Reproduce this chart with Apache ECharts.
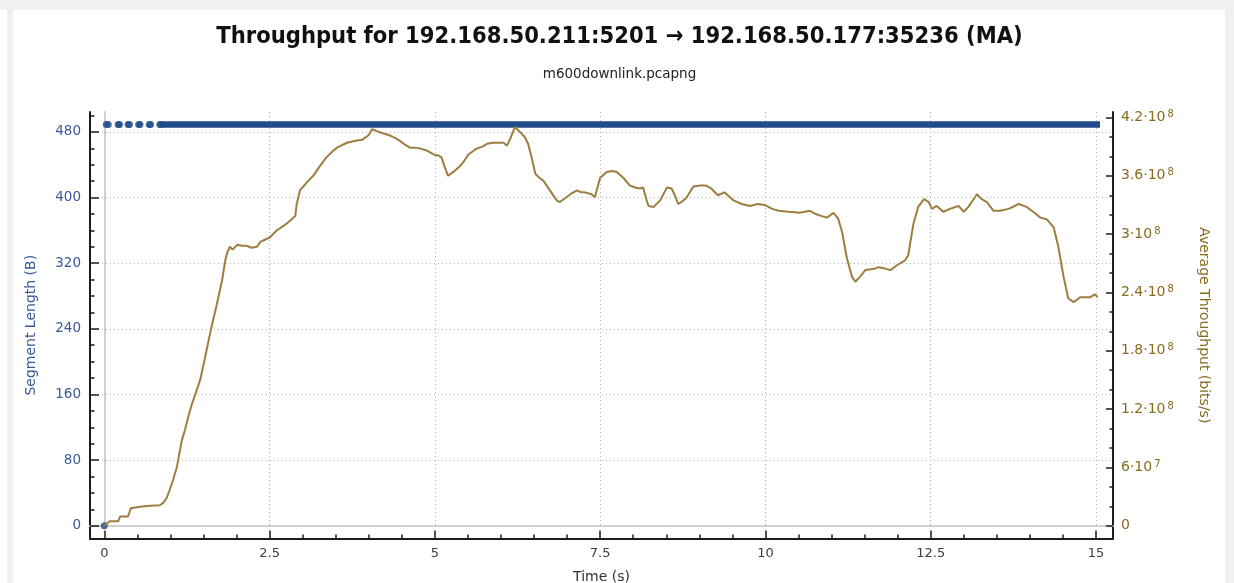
<!DOCTYPE html>
<html>
<head>
<meta charset="utf-8">
<title>Throughput</title>
<script src="https://cdn.jsdelivr.net/npm/echarts@6/dist/echarts.min.js"></script>
<style>
  html, body { margin: 0; padding: 0; background: #ffffff; }
  #page { position: absolute; left: 0; top: 0; width: 1234px; height: 583px; overflow: hidden; }
  .edge { position: absolute; background: #f0f0f0; }
  #chart { position: absolute; left: 0; top: 0; width: 1234px; height: 583px; }
</style>
</head>
<body>
<div id="page">
  <div class="edge" style="left:0;top:0;width:1234px;height:10px"></div>
  <div class="edge" style="left:7px;top:0;width:6px;height:583px"></div>
  <div class="edge" style="left:1225px;top:0;width:9px;height:583px"></div>
  <div id="chart"></div>
</div>
<script>
// ---- data -------------------------------------------------------------
// Individual packets before the stream settles (time s, segment length B)
const segTime = [0, 0.03, 0.06, 0.21, 0.23, 0.36, 0.38, 0.52, 0.54, 0.68, 0.70, 0.84, 0.86];
const segLen  = [0, 489, 489, 489, 489, 489, 489, 489, 489, 489, 489, 489, 489];
// Back-to-back full-size segments for the rest of the capture
const runTime = [0.89, 15.05];
const runLen  = [489, 489];

// Moving-average throughput (time s, bits/s)
const thrTime = [
  0, 0.03, 0.08, 0.21, 0.24, 0.36, 0.40, 0.54, 0.69, 0.84,
  0.89, 0.94, 0.99, 1.04, 1.10, 1.17, 1.22, 1.27, 1.32, 1.40,
  1.45, 1.53, 1.61, 1.70, 1.78, 1.83, 1.86, 1.90, 1.94, 2.01,
  2.08, 2.15, 2.23, 2.31, 2.36, 2.45, 2.51, 2.61, 2.70, 2.76,
  2.83, 2.89, 2.91, 2.96, 3.06, 3.16, 3.26, 3.36, 3.45, 3.52,
  3.67, 3.80, 3.90, 4.00, 4.05, 4.12, 4.20, 4.30, 4.40, 4.47,
  4.55, 4.62, 4.70, 4.78, 4.88, 4.98, 5.05, 5.10, 5.15, 5.20,
  5.28, 5.38, 5.45, 5.51, 5.57, 5.63, 5.72, 5.79, 5.87, 5.94,
  6.04, 6.09, 6.14, 6.21, 6.29, 6.36, 6.41, 6.47, 6.52, 6.58,
  6.64, 6.74, 6.84, 6.89, 6.99, 7.07, 7.15, 7.21, 7.27, 7.37,
  7.42, 7.46, 7.50, 7.60, 7.68, 7.75, 7.85, 7.95, 8.03, 8.10,
  8.15, 8.19, 8.23, 8.31, 8.41, 8.51, 8.58, 8.63, 8.68, 8.75,
  8.81, 8.91, 9.01, 9.10, 9.18, 9.28, 9.38, 9.51, 9.64, 9.77,
  9.88, 9.99, 10.10, 10.20, 10.35, 10.52, 10.67, 10.75, 10.83, 10.93,
  11.03, 11.10, 11.16, 11.23, 11.31, 11.36, 11.43, 11.51, 11.63, 11.71,
  11.79, 11.89, 11.99, 12.11, 12.16, 12.20, 12.24, 12.31, 12.40, 12.47,
  12.52, 12.59, 12.69, 12.79, 12.92, 13.00, 13.07, 13.12, 13.20, 13.27,
  13.35, 13.45, 13.55, 13.68, 13.83, 13.95, 14.05, 14.16, 14.26, 14.36,
  14.43, 14.51, 14.58, 14.66, 14.76, 14.91, 14.98, 15.05
];
const thrBps = [
  0, 2.0e6, 4.5e6, 4.5e6, 9.5e6, 9.5e6, 1.8e7, 1.95e7, 2.05e7, 2.1e7,
  2.35e7, 2.8e7, 3.7e7, 4.7e7, 6.1e7, 8.7e7, 9.85e7, 1.12e8, 1.24e8, 1.40e8,
  1.50e8, 1.75e8, 2.01e8, 2.27e8, 2.52e8, 2.73e8, 2.81e8, 2.87e8, 2.84e8, 2.89e8,
  2.88e8, 2.88e8, 2.86e8, 2.87e8, 2.92e8, 2.95e8, 2.97e8, 3.04e8, 3.08e8, 3.11e8,
  3.15e8, 3.19e8, 3.31e8, 3.45e8, 3.53e8, 3.60e8, 3.70e8, 3.79e8, 3.85e8, 3.89e8,
  3.94e8, 3.96e8, 3.97e8, 4.02e8, 4.08e8, 4.06e8, 4.04e8, 4.02e8, 3.99e8, 3.96e8,
  3.92e8, 3.89e8, 3.89e8, 3.88e8, 3.86e8, 3.82e8, 3.81e8, 3.79e8, 3.69e8, 3.60e8,
  3.64e8, 3.70e8, 3.76e8, 3.82e8, 3.85e8, 3.88e8, 3.90e8, 3.93e8, 3.94e8, 3.94e8,
  3.94e8, 3.91e8, 3.98e8, 4.10e8, 4.05e8, 4.00e8, 3.93e8, 3.77e8, 3.62e8, 3.58e8,
  3.55e8, 3.45e8, 3.35e8, 3.33e8, 3.38e8, 3.42e8, 3.45e8, 3.43e8, 3.43e8, 3.41e8,
  3.38e8, 3.48e8, 3.58e8, 3.64e8, 3.65e8, 3.64e8, 3.58e8, 3.50e8, 3.48e8, 3.47e8,
  3.48e8, 3.38e8, 3.29e8, 3.28e8, 3.35e8, 3.48e8, 3.47e8, 3.40e8, 3.31e8, 3.34e8,
  3.38e8, 3.49e8, 3.50e8, 3.50e8, 3.47e8, 3.40e8, 3.43e8, 3.35e8, 3.31e8, 3.29e8,
  3.31e8, 3.30e8, 3.26e8, 3.24e8, 3.23e8, 3.22e8, 3.24e8, 3.21e8, 3.19e8, 3.17e8,
  3.22e8, 3.16e8, 3.02e8, 2.76e8, 2.56e8, 2.51e8, 2.56e8, 2.63e8, 2.64e8, 2.66e8,
  2.65e8, 2.63e8, 2.68e8, 2.73e8, 2.78e8, 2.95e8, 3.11e8, 3.28e8, 3.36e8, 3.33e8,
  3.26e8, 3.29e8, 3.23e8, 3.26e8, 3.29e8, 3.23e8, 3.28e8, 3.33e8, 3.41e8, 3.36e8,
  3.33e8, 3.24e8, 3.24e8, 3.26e8, 3.31e8, 3.28e8, 3.23e8, 3.17e8, 3.15e8, 3.07e8,
  2.87e8, 2.56e8, 2.34e8, 2.30e8, 2.35e8, 2.35e8, 2.38e8, 2.34e8
];

// Tick values of the three scales
const timeTicks = [0, 2.5, 5, 7.5, 10, 12.5, 15];
const lenTicks  = [0, 80, 160, 240, 320, 400, 480];
const lenMinorTop = 500;           // last minor tick on the length axis
const thrTicks  = [0, 6e7, 1.2e8, 1.8e8, 2.4e8, 3e8, 3.6e8, 4.2e8];

// ---- layout (px) ------------------------------------------------------
const L = {
  frameLeft: 90, frameRight: 1113, frameTop: 112, frameBottom: 538.5,
  zeroX: 104.3, timeEndX: 1096, zeroY: 525.7,
  lenTopY: 131.9,   // row of the highest length tick
  thrTopY: 117.5    // row of the highest throughput tick
};
const lenMax = lenTicks[lenTicks.length - 1];
const thrMax = thrTicks[thrTicks.length - 1];
const lenPx = (L.zeroY - L.lenTopY) / lenMax;
const thrPx = (L.zeroY - L.thrTopY) / thrMax;
const frameW = L.frameRight - L.frameLeft;

const FONT = 'DejaVu Sans';
const BLUE_TXT = '#3a5a98';
const GOLD_TXT = '#876b1f';
const DOT = '#1f4b8a';
const LINE = '#9c7f40';
const AXIS = '#1c1c1c';
const GRIDC = '#b4b4b4';
const ZEROC = '#d0d0d0';

function sci(v) {
  if (v === 0) return '{m|0}';
  const e = Math.floor(Math.log10(v) + 1e-9);
  const m = +(v / Math.pow(10, e)).toFixed(1);
  return '{m|' + m + '\u00b710}{e|' + e + '}';
}

const off = { show: false };
function bare(extra) {
  return Object.assign({
    type: 'value', min: 0, max: 1,
    axisLine: { show: false, onZero: false }, axisTick: off, minorTick: off,
    axisLabel: off, splitLine: off, minorSplitLine: off
  }, extra);
}

const chart = echarts.init(document.getElementById('chart'), null, { renderer: 'canvas' });
chart.setOption({
  animation: false,
  backgroundColor: 'transparent',
  title: [
    {
      text: 'Throughput for 192.168.50.211:5201 \u2192 192.168.50.177:35236 (MA)',
      left: 619.5, top: 25, textAlign: 'center', padding: 0,
      textStyle: { fontFamily: 'DejaVu Sans Condensed, DejaVu Sans', fontWeight: 'bold', fontSize: 23.5, color: '#111111' }
    },
    {
      text: 'm600downlink.pcapng',
      left: 619.5, top: 67, textAlign: 'center', padding: 0,
      textStyle: { fontFamily: FONT, fontWeight: 'normal', fontSize: 13.5, color: '#222222' }
    }
  ],
  grid: [
    // 0: axis frame
    { left: L.frameLeft, top: L.frameTop, width: frameW, height: L.frameBottom - L.frameTop, outerBoundsMode: 'none' },
    // 1: data area, time 0..15
    { left: L.zeroX, top: L.frameTop, width: L.timeEndX - L.zeroX, height: L.zeroY - L.frameTop, outerBoundsMode: 'none' },
    // 2: minor ticks of the length axis
    { left: L.frameLeft, top: L.zeroY - lenMinorTop * lenPx, width: frameW, height: lenMinorTop * lenPx, outerBoundsMode: 'none' },
    // 3: length axis ticks, labels and horizontal grid
    { left: L.frameLeft, top: L.lenTopY, width: frameW, height: L.zeroY - L.lenTopY, outerBoundsMode: 'none' },
    // 4: throughput axis
    { left: L.frameLeft, top: L.thrTopY, width: frameW, height: L.zeroY - L.thrTopY, outerBoundsMode: 'none' }
  ],
  xAxis: [
    bare({
      gridIndex: 0, show: true, position: 'bottom',
      axisLine: { show: true, onZero: false, lineStyle: { color: AXIS, width: 2 } },
      name: 'Time (s)', nameLocation: 'middle', nameGap: 32,
      nameTextStyle: { fontFamily: FONT, fontSize: 14, color: '#333333' }
    }),
    {
      gridIndex: 1, type: 'value', position: 'bottom',
      min: timeTicks[0], max: timeTicks[timeTicks.length - 1], interval: timeTicks[1] - timeTicks[0],
      offset: L.frameBottom - L.zeroY,
      axisLine: { show: false, onZero: false },
      axisTick: { show: true, inside: true, length: 8, lineStyle: { color: AXIS, width: 1.5 } },
      minorTick: { show: true, splitNumber: 5, length: 4, lineStyle: { color: AXIS, width: 1.5 } },
      axisLabel: { show: true, margin: 9, color: '#3c3c3c', fontFamily: FONT, fontSize: 13, formatter: v => String(v) },
      splitLine: { show: true, lineStyle: { color: GRIDC, width: 1, type: [1, 3] } },
      minorSplitLine: off
    },
    bare({ gridIndex: 2, show: false }),
    bare({ gridIndex: 3, show: true, position: 'bottom',
      axisLine: { show: true, onZero: false, lineStyle: { color: ZEROC, width: 2 } } }),
    bare({ gridIndex: 4, show: false })
  ],
  yAxis: [
    bare({
      gridIndex: 0, show: true, position: 'left',
      axisLine: { show: true, onZero: false, lineStyle: { color: AXIS, width: 2 } },
      name: 'Segment Length (B)', nameLocation: 'middle', nameGap: 52,
      nameTextStyle: { fontFamily: FONT, fontSize: 14, color: BLUE_TXT }
    }),
    bare({
      gridIndex: 0, show: true, position: 'right',
      axisLine: { show: true, onZero: false, lineStyle: { color: AXIS, width: 2 } },
      name: 'Average Throughput (bits/s)', nameLocation: 'middle', nameGap: 84, nameRotate: -90,
      nameTextStyle: { fontFamily: FONT, fontSize: 14, color: GOLD_TXT }
    }),
    // data scales of grid 1
    bare({
      gridIndex: 1, show: true, position: 'left', min: 0, max: (L.zeroY - L.frameTop) / lenPx,
      axisLine: { show: true, onZero: false, lineStyle: { color: ZEROC, width: 2 } }
    }),
    bare({ gridIndex: 1, show: false, position: 'right', min: 0, max: (L.zeroY - L.frameTop) / thrPx }),
    // length axis minor ticks
    bare({
      gridIndex: 2, show: true, position: 'left', min: 0, max: lenMinorTop, interval: 20,
      axisTick: { show: true, inside: true, length: 4.5, lineStyle: { color: AXIS, width: 1.5 } }
    }),
    // length axis
    {
      gridIndex: 3, type: 'value', position: 'left',
      min: lenTicks[0], max: lenMax, interval: lenTicks[1] - lenTicks[0],
      axisLine: { show: false, onZero: false },
      axisTick: { show: true, inside: true, length: 9, lineStyle: { color: AXIS, width: 1.5 } },
      minorTick: off,
      axisLabel: { show: true, margin: 9, color: BLUE_TXT, fontFamily: FONT, fontSize: 13.5 },
      splitLine: { show: true, lineStyle: { color: GRIDC, width: 1, type: [1, 3] } },
      minorSplitLine: off
    },
    // throughput axis
    {
      gridIndex: 4, type: 'value', position: 'right',
      min: thrTicks[0], max: thrMax, interval: thrTicks[1] - thrTicks[0],
      axisLine: { show: false, onZero: false },
      axisTick: { show: true, inside: true, length: 7, lineStyle: { color: AXIS, width: 1.5 } },
      minorTick: { show: true, splitNumber: 3, length: 3.5, lineStyle: { color: AXIS, width: 1.5 } },
      axisLabel: {
        show: true, margin: 8, formatter: sci,
        rich: {
          m: { fontFamily: FONT, fontSize: 14, color: GOLD_TXT, lineHeight: 16 },
          e: { fontFamily: FONT, fontSize: 10, color: GOLD_TXT, lineHeight: 12, verticalAlign: 'top', padding: [0, 0, 0, 2] }
        }
      },
      splitLine: off, minorSplitLine: off
    }
  ],
  series: [
    {
      name: 'Segment Length', type: 'scatter', xAxisIndex: 1, yAxisIndex: 2,
      data: segTime.map((t, i) => [t, segLen[i]]),
      symbol: 'circle', symbolSize: 7, itemStyle: { color: DOT }, clip: false, silent: true, z: 3
    },
    {
      name: 'Segment Length', type: 'line', xAxisIndex: 1, yAxisIndex: 2,
      data: runTime.map((t, i) => [t, runLen[i]]),
      showSymbol: false, lineStyle: { color: DOT, width: 6.6, cap: 'round' }, clip: false, silent: true, z: 3
    },
    {
      name: 'Average Throughput', type: 'line', xAxisIndex: 1, yAxisIndex: 3,
      data: thrTime.map((t, i) => [t, thrBps[i]]),
      showSymbol: false, lineStyle: { color: LINE, width: 2 }, clip: false, silent: true, z: 4
    }
  ]
});
</script>
</body>
</html>
